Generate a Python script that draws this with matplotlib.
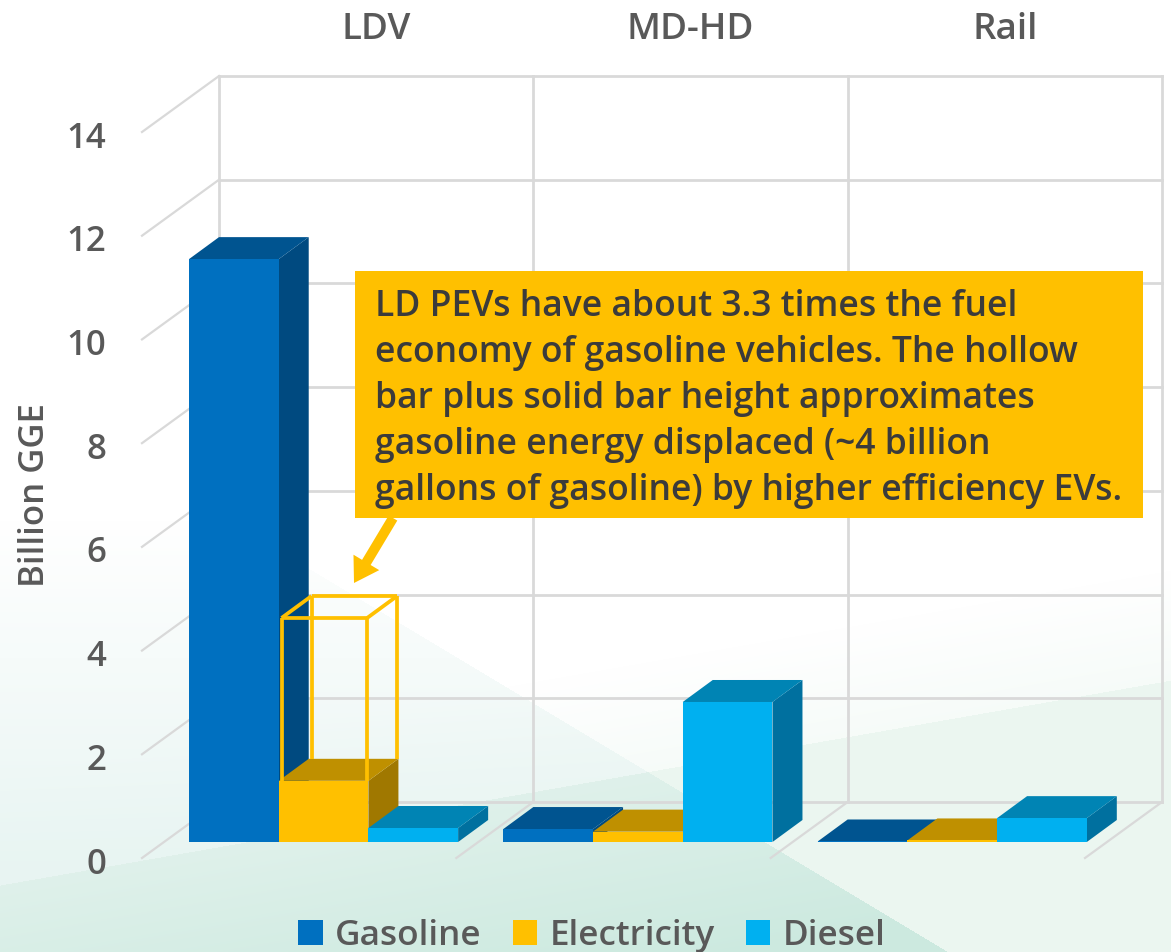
import numpy as np
import matplotlib
matplotlib.use('Agg')
import matplotlib.pyplot as plt
from matplotlib.patches import Polygon, Rectangle, FancyArrow
from matplotlib.transforms import Affine2D

W, H = 1171, 952

groups = ['LDV', 'MD-HD', 'Rail']
series = ['Gasoline', 'Electricity', 'Diesel']
gasoline = [11.24, 0.25, 0.01]
electricity = [1.18, 0.2, 0.03]
diesel = [0.27, 2.7, 0.46]
hollow_top = 4.32
yticks = [0, 2, 4, 6, 8, 10, 12, 14]

note = ('LD PEVs have about 3.3 times the fuel\n'
        'economy of gasoline vehicles. The hollow\n'
        'bar plus solid bar height approximates\n'
        'gasoline energy displaced (~4 billion\n'
        'gallons of gasoline) by higher efficiency EVs.')

front = ['#0070c0', '#ffc000', '#00b0f0']
top = ['#005490', '#bf9000', '#0084b4']
side = ['#004a80', '#a07800', '#00709f']
GREY = '#595959'
GRID = '#d9d9d9'

plt.rcParams['font.family'] = ['Open Sans', 'Noto Sans', 'DejaVu Sans']


def background():
    yy, xx = np.mgrid[0:H, 0:W]
    img = np.ones((H, W, 3))
    line = 885 - 0.175 * xx
    below = yy > line
    tri = yy > 383 + 0.6 * xx

    # pale wedge rising to the right, soft above its edge
    a = np.clip((yy - line + 110) / 110, 0, 1) * 0.45
    a[below] = 1
    a = a[..., None]
    img = img * (1 - a) + np.array([0.925, 0.968, 0.945]) * a

    # triangle from the left, above the wedge edge
    a = (tri & ~below) * np.clip((yy - 520) / 350, 0, 1)
    a = a[..., None]
    img = img * (1 - a) + np.array([0.91, 0.96, 0.95]) * a

    # triangle below the wedge edge gets darker to the bottom
    a = (tri & below)[..., None]
    f = np.clip((yy - line) / 200, 0, 1)[..., None]
    col = np.array([0.875, 0.945, 0.92]) * (1 - f) + np.array([0.80, 0.915, 0.875]) * f
    img = img * (1 - a) + col * a
    return img


fig = plt.figure(figsize=(W / 100, H / 100), dpi=100)
bg = fig.add_axes([0, 0, 1, 1], zorder=-1)
bg.imshow(background(), aspect='auto')
bg.axis('off')

ax = fig.add_axes([142 / W, (H - 858) / H, 943 / W, 726 / H])
ax.patch.set_alpha(0)
ax.set_xlim(0, 3)
ax.set_ylim(0, 14)
for s in ax.spines.values():
    s.set_visible(False)

# depth of the floor, offset of the bars from the front edge, depth of a bar
BX, BY = 77 / 314.3, 56 / 51.86
FX, FY = 47 / 314.3, 16 / 51.86
DX, DY = 30 / 314.3, 22 / 51.86
BW = 89.7 / 314.3

for v in yticks:
    ax.plot([BX, 3 + BX], [v + BY, v + BY], color=GRID, lw=2, clip_on=False, zorder=1)
    ax.plot([0, BX], [v, v + BY], color=GRID, lw=1.6, clip_on=False, zorder=1)
for k in range(4):
    ax.plot([k + BX, k + BX], [BY, 14 + BY], color=GRID, lw=2, clip_on=False, zorder=1)
    if k:
        ax.plot([k, k + BX], [0, BY], color=GRID, lw=1.6, clip_on=False, zorder=1)


def bar3d(x, val, j, z):
    y0 = FY
    y1 = FY + val
    ax.add_patch(Polygon([[x + BW, y0], [x + BW + DX, y0 + DY], [x + BW + DX, y1 + DY], [x + BW, y1]],
                         fc=side[j], ec='none', clip_on=False, zorder=z))
    ax.add_patch(Polygon([[x, y1], [x + DX, y1 + DY], [x + BW + DX, y1 + DY], [x + BW, y1]],
                         fc=top[j], ec='none', clip_on=False, zorder=z))


handles = []
z = 2
for i in range(len(groups)):
    for j, vals in enumerate([gasoline, electricity, diesel]):
        x = i + FX + j * BW
        bar3d(x, vals[i], j, z)
        b = ax.bar(x, vals[i], BW, bottom=FY, align='edge', color=front[j], clip_on=False, zorder=z + 0.5,
                   label=series[j])
        if i == 0:
            handles.append(b)
        z += 1

# hollow bar on the electricity bar of LDV
hx0 = FX + BW + 0.009
hx1 = FX + 2 * BW - 0.004
hb = FY + electricity[0]
ht = FY + hollow_top
hollow = [
    ([hx0, hx0], [hb, ht]), ([hx1, hx1], [hb, ht]), ([hx0, hx1], [ht, ht]),
    ([hx0 + DX, hx0 + DX], [hb + DY, ht + DY]), ([hx1 + DX, hx1 + DX], [hb + DY, ht + DY]),
    ([hx0 + DX, hx1 + DX], [ht + DY, ht + DY]),
    ([hx0, hx0 + DX], [ht, ht + DY]), ([hx1, hx1 + DX], [ht, ht + DY]),
]
for xs, ys in hollow:
    ax.plot(xs, ys, color='#ffc000', lw=2.7, clip_on=False, zorder=z, solid_capstyle='butt')
z += 1

ax.set_xticks([])
ax.set_yticks(yticks)
ax.tick_params(axis='y', length=0, pad=26, labelsize=25, labelcolor=GREY)
nudge = Affine2D().translate(0, -2.5)
for t in ax.get_yticklabels():
    t.set_fontweight('semibold')
    t.set_transform(t.get_transform() + nudge)
ax.set_ylabel('Billion GGE', fontsize=25, color=GREY, fontweight='semibold')
ax.yaxis.set_label_coords((52 - 142) / 943, (858 - 495) / 726)

for i, g in enumerate(groups):
    ax.text(i + 0.5 + BX, 15.96, g, ha='center', va='center', fontsize=26.5, color=GREY,
            fontweight='semibold', clip_on=False)

# callout, placed in image pixels
px = Affine2D().scale(1, -1).translate(0, H)
ax.add_patch(Rectangle((355, 271), 788, 247, fc='#ffc000', ec='none', transform=px, clip_on=False, zorder=z))
ax.add_patch(FancyArrow(393, 518, -39, 65, width=10, head_width=30, head_length=24, length_includes_head=True,
                        fc='#ffc000', ec='none', transform=px, clip_on=False, zorder=z))
ax.text(375, 399, note, transform=px, ha='left', va='center', fontsize=25.6, color='#3b3b3b',
        fontweight='semibold', linespacing=1.37, clip_on=False, zorder=z + 1)

ax.legend(handles=handles, labels=series, loc='center', bbox_to_anchor=(592 / W, (H - 936) / H),
          bbox_transform=fig.transFigure, ncol=3, frameon=False, labelcolor=GREY,
          handlelength=0.7, handleheight=0.7, handletextpad=0.35, columnspacing=0.88,
          prop={'size': 25.3, 'weight': 'semibold'})

fig.savefig('out.png', dpi=100)
